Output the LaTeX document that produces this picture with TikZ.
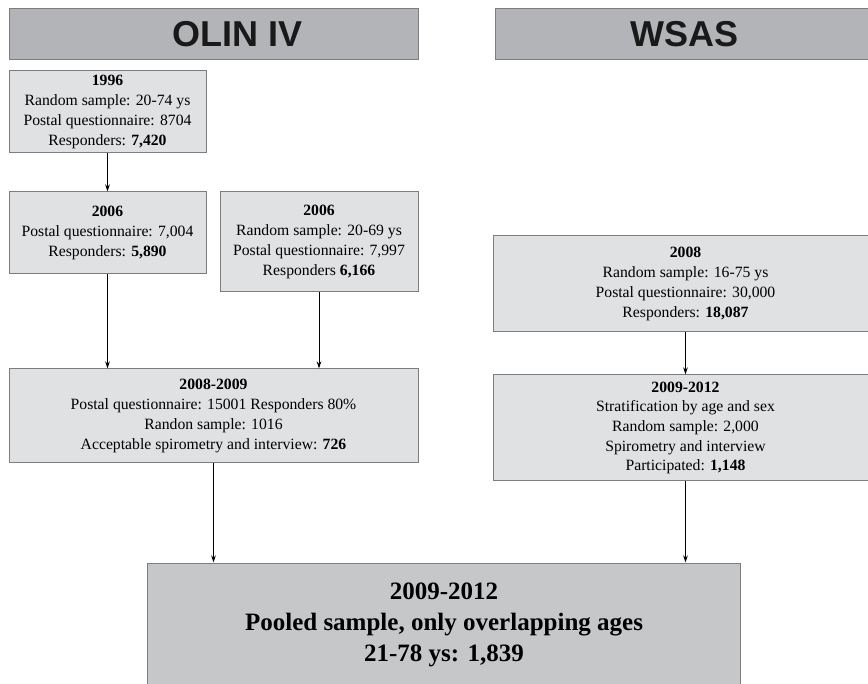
\documentclass[tikz,border=0pt]{standalone}
\usepackage{fontspec}
\setmainfont{Liberation Serif}
\newfontfamily\headfont{Liberation Sans}
\usetikzlibrary{arrows.meta}
\definecolor{headfill}{RGB}{179,180,184}
\definecolor{boxfill}{RGB}{224,225,227}
\definecolor{poolfill}{RGB}{198,199,201}
\definecolor{boxedge}{RGB}{125,125,128}
\begin{document}
\begin{tikzpicture}[
            x=1pt, y=-1pt,
            head box/.style={rectangle,draw=boxedge,fill=headfill,line width=1pt,minimum height=51pt},
            head text/.style={font=\headfont\bfseries\fontsize{36}{40}\selectfont,text=black!90},
            main node/.style={rectangle,draw=boxedge,fill=boxfill,line width=1pt,align=center,
                inner sep=0pt,font=\fontsize{15.7}{19.7}\selectfont},
            pool node/.style={main node,fill=poolfill,font=\bfseries\fontsize{25}{31}\selectfont},
            link/.style={-{Stealth[length=7pt,width=4.5pt]},line width=0.8pt}]
    \useasboundingbox (0,0) rectangle (868,684);
            % Define headers
    \node[head box,minimum width=409pt] (olin) at (213.5,34.5) {};
    \node[head text] (olin text) at (237.5,34.5) {OLIN IV};
    \node[head box,minimum width=379pt] (wsas) at (684.5,34.5) {};
    \node[head text] (wsas text) at (684.5,34.5) {WSAS};
            % Define vertices
    \node[main node,minimum width=197pt,minimum height=82pt] (y1996) at (107.5,112)
        {\textbf{1996}\\Random sample: 20-74 ys\\Postal questionnaire: 8704\\Responders: \textbf{7,420}};
    \node[main node,minimum width=197pt,minimum height=82pt] (y2006a) at (107.5,233)
        {\textbf{2006}\\Postal questionnaire: 7,004\\Responders: \textbf{5,890}};
    \node[main node,minimum width=198pt,minimum height=100pt] (y2006b) at (319,242)
        {\textbf{2006}\\Random sample: 20-69 ys\\Postal questionnaire: 7,997\\Responders \textbf{6,166}};
    \node[main node,minimum width=409pt,minimum height=94pt] (y0809) at (213.5,416)
        {\textbf{2008-2009}\\Postal questionnaire: 15001 Responders 80\%\\Randon sample: 1016\\Acceptable spirometry and interview: \textbf{726}};
    \node[main node,minimum width=385pt,minimum height=96pt] (y2008) at (685.5,284)
        {\textbf{2008}\\Random sample: 16-75 ys\\Postal questionnaire: 30,000\\Responders: \textbf{18,087}};
    \node[main node,minimum width=385pt,minimum height=106pt] (y0912) at (685.5,428)
        {\textbf{2009-2012}\\Stratification by age and sex\\Random sample: 2,000\\Spirometry and interview\\Participated: \textbf{1,148}};
    \node[pool node,minimum width=593pt,minimum height=123pt] (pooled) at (444,624.5)
        {2009-2012\\Pooled sample, only overlapping ages\\21-78 ys: 1,839};
            % Define edges
    \draw[link] (y1996.south) -- (y2006a.north);
    \draw[link] (y2006a.south) -- (y2006a.south |- y0809.north);
    \draw[link] (y2006b.south) -- (y2006b.south |- y0809.north);
    \draw[link] (y2008.south) -- (y0912.north);
    \draw[link] (y0809.south) -- (y0809.south |- pooled.north);
    \draw[link] (y0912.south) -- (y0912.south |- pooled.north);
\end{tikzpicture}
\end{document}
